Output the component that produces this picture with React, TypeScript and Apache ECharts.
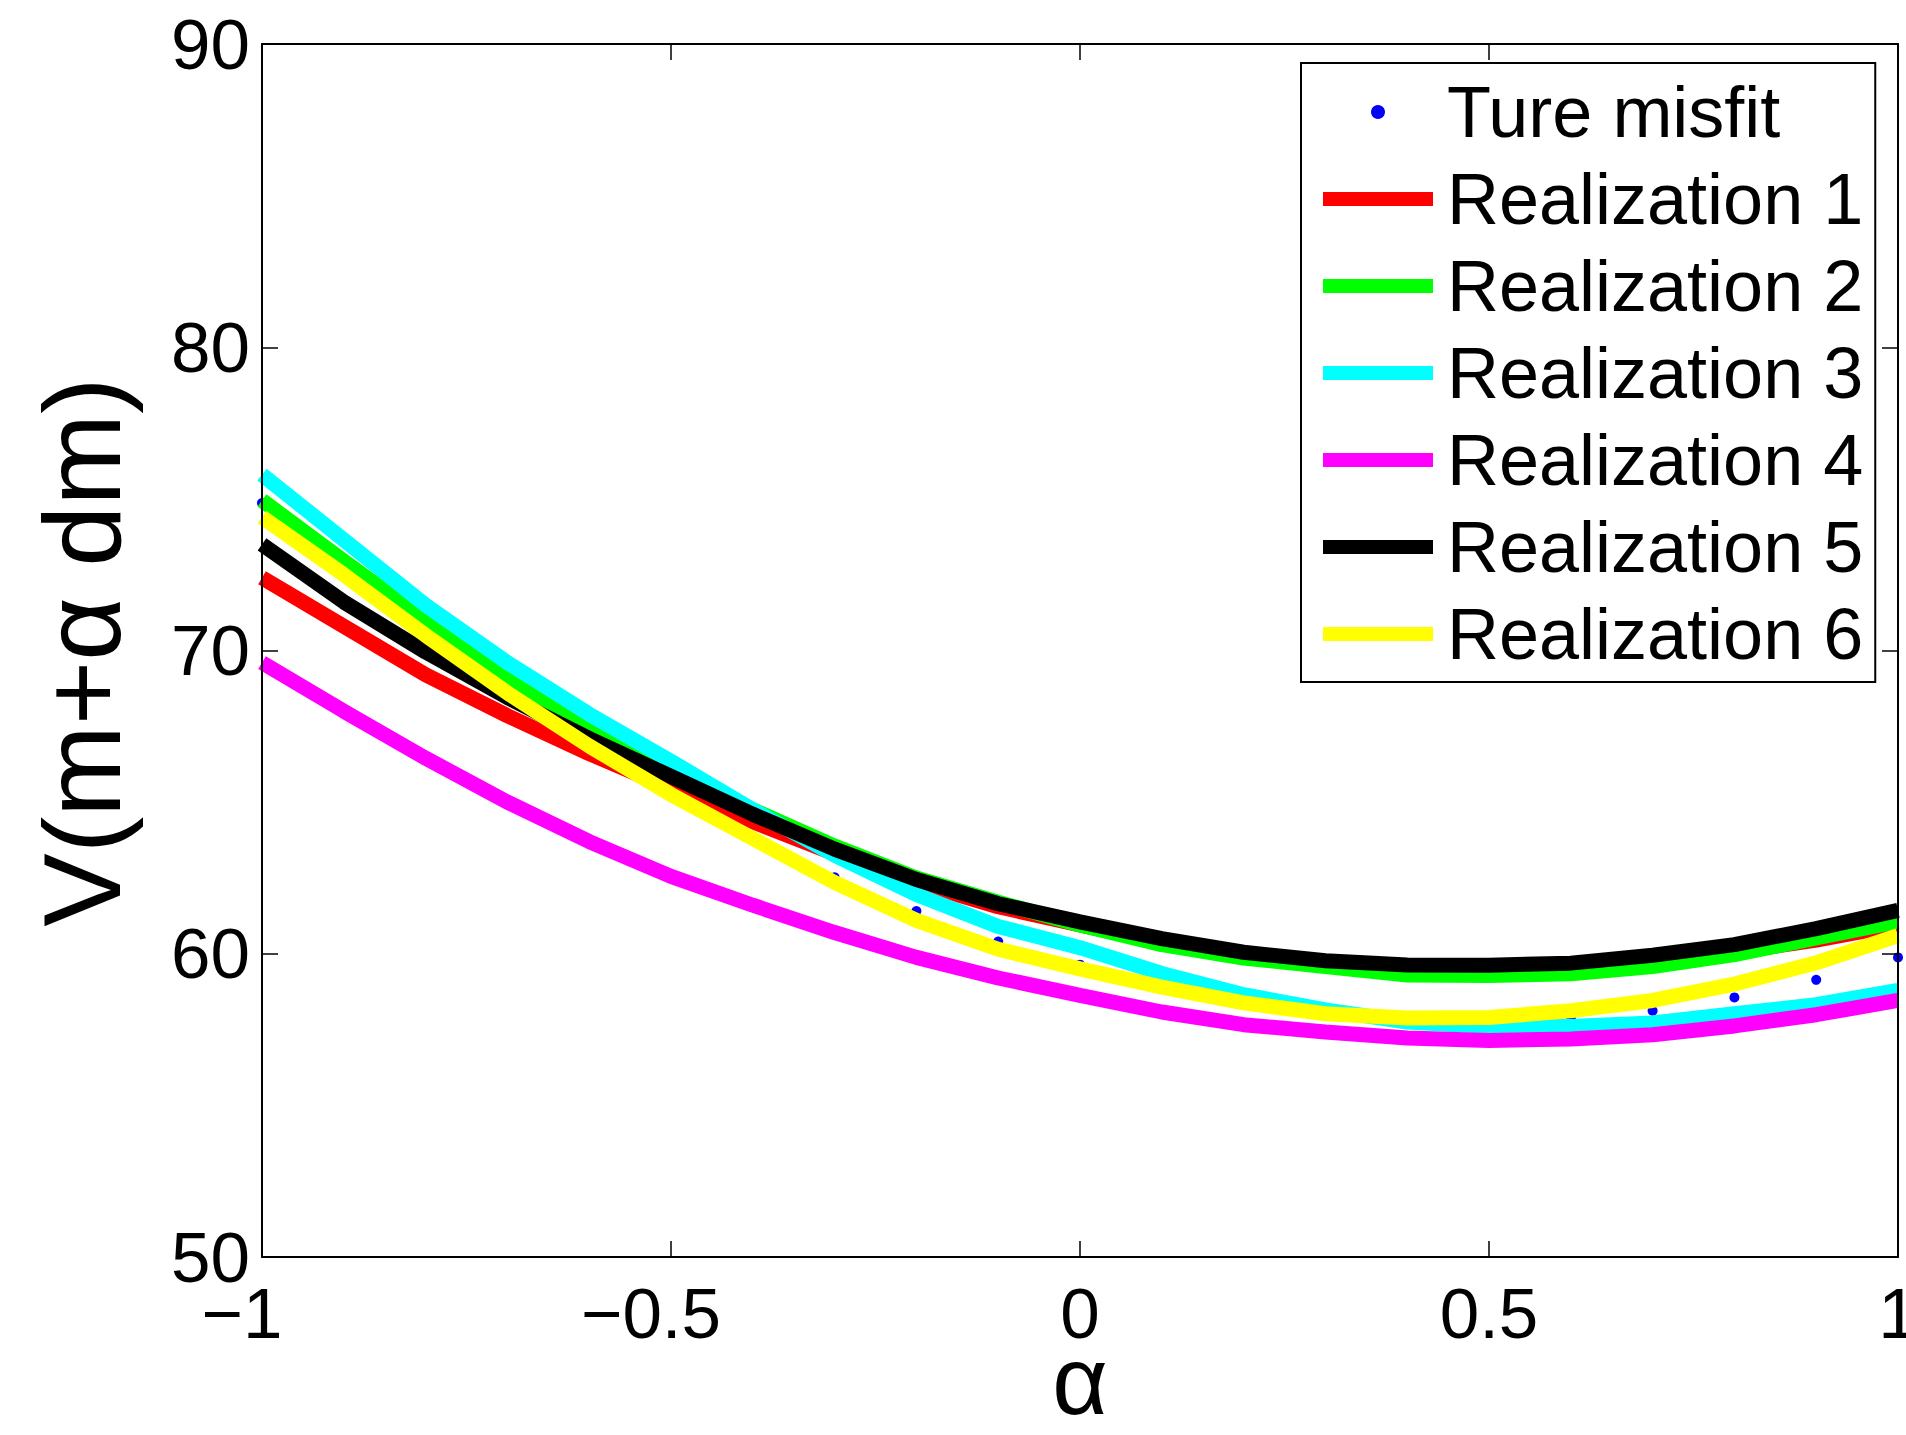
import React, { useEffect, useRef } from "react";
import * as echarts from "echarts";

const FONT = "'Liberation Sans', Arial, Helvetica, sans-serif";

const alpha = [-1, -0.9, -0.8, -0.7, -0.6, -0.5, -0.4, -0.3, -0.2, -0.1, 0, 0.1, 0.2, 0.3, 0.4, 0.5, 0.6, 0.7, 0.8, 0.9, 1];

const trueMisfit = [74.86, 72.6, 70.57, 68.68, 66.9, 65.3, 63.84, 62.52, 61.41, 60.4, 59.64, 58.98, 58.5, 58.15, 57.9, 57.8, 57.88, 58.12, 58.56, 59.14, 59.88];
const realization1 = [72.4, 70.8, 69.2, 67.85, 66.6, 65.45, 64.35, 63.3, 62.35, 61.55, 60.95, 60.35, 59.9, 59.62, 59.45, 59.42, 59.5, 59.72, 60.05, 60.45, 60.95];
const realization2 = [74.95, 72.95, 71.0, 69.1, 67.5, 66.1, 64.75, 63.55, 62.5, 61.7, 60.95, 60.3, 59.86, 59.58, 59.3, 59.28, 59.34, 59.58, 59.97, 60.52, 61.07];
const realization3 = [75.8, 73.65, 71.5, 69.6, 67.9, 66.35, 64.75, 63.25, 61.95, 60.9, 60.2, 59.35, 58.65, 58.15, 57.75, 57.6, 57.6, 57.72, 58.02, 58.32, 58.79];
const realization4 = [69.6, 68.0, 66.45, 65.0, 63.7, 62.55, 61.6, 60.7, 59.88, 59.2, 58.63, 58.08, 57.66, 57.42, 57.22, 57.14, 57.19, 57.33, 57.62, 57.99, 58.46];
const realization5 = [73.5, 71.6, 69.95, 68.45, 67.1, 65.85, 64.6, 63.45, 62.45, 61.65, 61.05, 60.5, 60.05, 59.77, 59.63, 59.62, 59.69, 59.95, 60.3, 60.83, 61.43];
const realization6 = [74.4, 72.5, 70.5, 68.6, 66.85, 65.25, 63.8, 62.35, 61.1, 60.15, 59.5, 58.9, 58.38, 58.02, 57.88, 57.9, 58.12, 58.46, 59.0, 59.7, 60.6];

const seriesNames = ["Ture misfit", "Realization 1", "Realization 2", "Realization 3", "Realization 4", "Realization 5", "Realization 6"];
const lineColors = ["#ff0000", "#00ff00", "#00ffff", "#ff00ff", "#000000", "#ffff00"];
const lineValues = [realization1, realization2, realization3, realization4, realization5, realization6];

const yTitle = "V(m+α dm)";
const xTitle = "α";

function fmtX(v: number): string {
  const a = Math.abs(v);
  const s = a === 0 ? "0" : String(a);
  return v < 0 ? `{n|\u2212${s}}{p| }` : `{n|${s}}`;
}

export default function App() {
  const ref = useRef<HTMLDivElement>(null);
  useEffect(() => {
    if (!ref.current) return;
    document.documentElement.style.overflow = "hidden";
    document.body.style.margin = "0";
    document.body.style.overflow = "hidden";
    const chart = echarts.init(ref.current, null, { renderer: "svg", width: 1906, height: 1435 });
    const axisLine = { show: true, onZero: false, lineStyle: { color: "#000", width: 2 } };
    const axisTick = { show: true, inside: true, length: 16, lineStyle: { color: "#000", width: 1.5 } };
    const option: any = {
      animation: false,
      backgroundColor: "#fff",
      grid: { left: 262, top: 44, right: 8, bottom: 178, containLabel: false, outerBoundsMode: "none" },
      xAxis: [
        {
          type: "value", min: -1, max: 1, interval: 0.5, position: "bottom", z: 10,
          axisLine, axisTick, splitLine: { show: false },
          axisLabel: {
            margin: 30,
            formatter: (v: number) => fmtX(v),
            rich: {
              n: { fontSize: 71, fontFamily: FONT, color: "#000", lineHeight: 52 },
              p: { width: 40, fontSize: 71, fontFamily: FONT, lineHeight: 52 },
            },
          },
        },
        {
          type: "value", min: -1, max: 1, interval: 0.5, position: "top", z: 10,
          axisLine, axisTick, splitLine: { show: false }, axisLabel: { show: false },
        },
      ],
      yAxis: [
        {
          type: "value", min: 50, max: 90, interval: 10, position: "left", z: 10,
          axisLine, axisTick, splitLine: { show: false },
          axisLabel: { margin: 12, fontSize: 71, lineHeight: 56, fontFamily: FONT, color: "#000", padding: [7, 0, 0, 0] },
        },
        {
          type: "value", min: 50, max: 90, interval: 10, position: "right", z: 10,
          axisLine, axisTick, splitLine: { show: false }, axisLabel: { show: false },
        },
      ],
      legend: {
        orient: "vertical",
        left: 1301,
        top: 63,
        itemWidth: 110,
        itemHeight: 14,
        itemGap: 15,
        padding: [13, 12, 12, 22],
        borderColor: "#000",
        borderWidth: 2,
        backgroundColor: "#fff",
        selectedMode: false,
        textStyle: { fontSize: 72, fontFamily: FONT, color: "#000", lineHeight: 72, padding: [0, 0, 0, 9] },
        data: seriesNames.map((n, i) => ({ name: n, icon: i === 0 ? "circle" : "rect" })),
        z: 20,
      },
      graphic: [
        {
          type: "text", x: 81, y: 652, rotation: Math.PI / 2,
          style: { text: yTitle, fontSize: 110, fontFamily: FONT, fill: "#000", align: "center", verticalAlign: "middle" },
        },
        {
          type: "text", x: 1080, y: 1380,
          style: { text: xTitle, fontSize: 96, lineHeight: 80, fontFamily: FONT, fill: "#000", align: "center", verticalAlign: "middle" },
        },
      ],
      series: [
        {
          type: "scatter",
          name: seriesNames[0],
          data: alpha.map((a, i) => [a, trueMisfit[i]]),
          symbol: "circle",
          symbolSize: 10,
          itemStyle: { color: "#0000ff", opacity: 1 },
        },
        ...lineValues.map((vals, k) => ({
          type: "line",
          name: seriesNames[k + 1],
          data: alpha.map((a, i) => [a, vals[i]]),
          symbol: "none",
          showSymbol: false,
          lineStyle: { width: 15, color: lineColors[k] },
          itemStyle: { color: lineColors[k] },
        })),
      ],
    };
    chart.setOption(option);
    return () => chart.dispose();
  }, []);
  return <div ref={ref} style={{ position: "absolute", left: 0, top: 0, width: 1906, height: 1435 }} />;
}
